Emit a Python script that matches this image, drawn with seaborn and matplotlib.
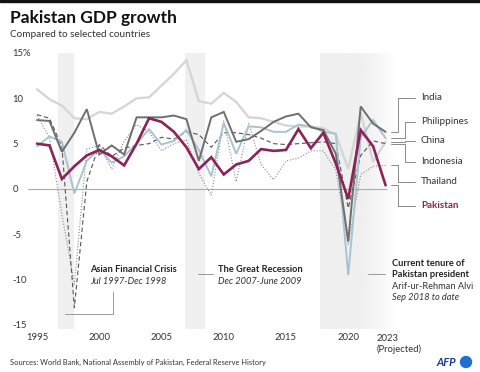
import numpy as np
import pandas as pd
import seaborn as sns
import matplotlib.pyplot as plt
from matplotlib.patches import Ellipse
from matplotlib.colors import to_rgb

# GDP growth, % (2023 projected)
years = list(range(1995, 2024))
china = [11.0, 9.9, 9.2, 7.8, 7.7, 8.5, 8.3, 9.1, 10.0, 10.1, 11.4, 12.7, 14.2, 9.7, 9.4,
         10.6, 9.6, 7.9, 7.8, 7.4, 7.0, 6.9, 6.9, 6.7, 6.0, 2.2, 8.4, 3.0, 5.2]
india = [7.6, 7.5, 4.1, 6.2, 8.8, 3.8, 4.8, 3.8, 7.9, 7.9, 7.9, 8.1, 7.7, 3.1, 7.9,
         8.5, 5.2, 5.5, 6.4, 7.4, 8.0, 8.3, 6.8, 6.5, 3.9, -5.8, 9.1, 7.2, 6.3]
philippines = [4.7, 5.8, 5.2, -0.5, 3.1, 4.4, 2.9, 3.6, 5.0, 6.6, 4.9, 5.3, 6.5, 4.3, 1.4,
               7.3, 3.9, 6.9, 6.8, 6.3, 6.3, 7.1, 6.9, 6.3, 6.1, -9.5, 5.7, 7.6, 5.6]
indonesia = [8.2, 7.8, 4.7, -13.1, 0.8, 4.9, 3.6, 4.5, 4.8, 5.0, 5.7, 5.5, 6.3, 6.0, 4.6,
             6.2, 6.2, 6.0, 5.6, 5.0, 4.9, 5.0, 5.1, 5.2, 5.0, -2.1, 3.7, 5.3, 5.0]
thailand = [8.1, 5.7, -2.8, -10.5, 4.4, 4.8, 2.2, 5.3, 7.1, 6.3, 4.2, 5.0, 5.4, 1.7, -0.7,
            7.5, 0.8, 7.2, 2.7, 1.0, 3.1, 3.4, 4.2, 4.2, 2.1, -6.1, 1.6, 2.5, 2.6]
pakistan = [5.0, 4.8, 1.1, 2.5, 3.7, 4.3, 3.6, 2.6, 5.0, 7.8, 7.4, 6.3, 4.6, 2.2, 3.5,
            1.6, 2.7, 3.1, 4.4, 4.2, 4.3, 6.6, 4.5, 6.2, 2.8, -1.1, 6.5, 4.7, 0.4]

yticks = [-15, -10, -5, 0, 5, 10, 15]
ytick_labels = ['-15', '-10', '-5', '0', '5', '10', '15%']
xticks_major = [1995, 2000, 2005, 2010, 2015, 2020]

# shaded periods (drawn position on the year axis)
asia_band = (1996.65, 1997.96)
recession_band = (2006.9, 2008.5)
tenure_band = (2017.73, 2023.9)

df = pd.DataFrame({'year': years, 'China': china, 'India': india, 'Philippines': philippines,
                   'Indonesia': indonesia, 'Thailand': thailand, 'Pakistan': pakistan})

sns.set_style("white")
plt.rcParams['font.family'] = ['Lato', 'DejaVu Sans']

MAROON = '#8b2358'
BAND = '#f0f0f0'
fig = plt.figure(figsize=(4.8, 3.72), dpi=100)
ax = fig.add_axes([28/480, 0.1167, 369/480, 0.7409])

# background bands
for a, b in [asia_band, recession_band]:
    ax.axvspan(a, b, color=BAND, lw=0, zorder=0)
grad = np.ones((1, 200, 4))
grad[..., :3] = to_rgb(BAND)
ramp = np.linspace(0, 1, 200)
grad[0, :, 3] = np.clip((1 - ramp) / 0.45, 0, 1)
ax.imshow(grad, extent=(tenure_band[0], tenure_band[1], -15.4, 15), aspect='auto',
          zorder=0, clip_on=False)

ax.hlines(0, 1994.2, 2023.15, color='#aaaaaa', lw=0.8, zorder=1)

# series, lightest first
styles = [
    ('China', '#d6d6d6', 1.7, '-'),
    ('Thailand', '#8a8a8a', 0.8, (0, (1, 1.6))),
    ('Indonesia', '#555555', 0.8, (0, (4, 2.5))),
    ('Philippines', '#a8c3d1', 1.4, '-'),
    ('India', '#6e6e6e', 1.4, '-'),
    ('Pakistan', MAROON, 1.9, '-'),
]
for name, col, lw, ls in styles:
    sns.lineplot(data=df, x='year', y=name, ax=ax, color=col, linewidth=lw,
                 linestyle=ls, zorder=3, solid_joinstyle='miter')

ax.set_xlim(1994.277, 2023.916)
ax.set_ylim(-15.4, 15)
sns.despine(ax=ax, left=True, bottom=True)
ax.set_xlabel('')
ax.set_ylabel('')

ax.set_yticks(yticks)
ax.set_yticklabels(ytick_labels, fontsize=6.8, color='#333333')
ax.tick_params(axis='y', length=0, pad=11)
for t in ax.get_yticklabels():
    t.set_ha('left')

ax.set_xticks(xticks_major)
ax.set_xticks(years, minor=True)
ax.set_xticklabels([str(y) for y in xticks_major], fontsize=6.8, color='#333333')
ax.tick_params(axis='x', which='both', direction='in', color='#999999', width=0.6, pad=3)
ax.tick_params(axis='x', which='major', length=5.5)
ax.tick_params(axis='x', which='minor', length=2.8)
ax.text(2022.26, -0.018, '2023\n(Projected)', transform=ax.get_xaxis_transform(),
        ha='left', va='top', fontsize=6.8, color='#333333', linespacing=1.3)

# right-hand labels with elbow connectors
lab_names = ['India', 'Philippines', 'China', 'Indonesia', 'Thailand', 'Pakistan']
lab_y = [10.07, 7.39, 5.3, 2.98, 0.77, -1.87]
lab_elbow = [2024.0, 2024.56, 2024.56, 2024.56, 2024.0, 2024.0]
for name, ly, ex in zip(lab_names, lab_y, lab_elbow):
    y0 = df[name].iloc[-1]
    ax.plot([2023.43, ex, ex, 2025.36], [y0, y0, ly, ly], color='#777777', lw=0.6,
            clip_on=False, zorder=2)
    bold = name == 'Pakistan'
    ax.text(2025.84, ly, name, fontsize=7.1, va='center', ha='left',
            color=MAROON if bold else '#333333', fontweight='bold' if bold else 'normal')

# period annotations
FS = 6.7
ax.plot([1997.25, 2001.1, 2001.1], [-13.78, -13.78, -11.32], color='#999999', lw=0.7, zorder=2)
ax.text(1999.26, -8.93, 'Asian Financial Crisis', fontsize=FS, fontweight='bold', va='center', color='#222222')
ax.text(1999.26, -10.25, 'Jul 1997-Dec 1998', fontsize=FS, style='italic', va='center', color='#333333')

ax.plot([2007.93, 2009.14], [-9.37, -9.37], color='#999999', lw=0.7, zorder=2)
ax.text(2009.54, -8.93, 'The Great Recession', fontsize=FS, fontweight='bold', va='center', color='#222222')
ax.text(2009.54, -10.25, 'Dec 2007-June 2009', fontsize=FS, style='italic', va='center', color='#333333')

ax.plot([2021.59, 2022.95], [-9.4, -9.4], color='#999999', lw=0.7, zorder=2, clip_on=False)
ax.text(2023.49, -8.19, 'Current tenure of', fontsize=FS, fontweight='bold', va='center', color='#222222')
ax.text(2023.49, -9.45, 'Pakistan president', fontsize=FS, fontweight='bold', va='center', color='#222222')
ax.text(2023.49, -10.77, 'Arif-ur-Rehman Alvi', fontsize=FS, va='center', color='#333333')
ax.text(2023.49, -11.98, 'Sep 2018 to date', fontsize=FS, style='italic', va='center', color='#333333')

# header / footer
fig.patches.append(plt.Rectangle((0, 1 - 2/372), 1, 2/372, transform=fig.transFigure,
                                 color='#111111', zorder=5))
fig.text(10/480, 1 - 22.7/372, 'Pakistan GDP growth', fontsize=12.5, fontweight='bold',
         va='baseline', color='#111111')
fig.text(10/480, 1 - 36.7/372, 'Compared to selected countries', fontsize=7.2,
         va='baseline', color='#333333')
fig.text(10/480, 1 - 362/372, 'Sources: World Bank, National Assembly of Pakistan, Federal Reserve History',
         fontsize=5.45, va='center', color='#333333')
fig.text(436/480, 1 - 362/372, 'AFP', fontsize=8, fontweight='bold', style='italic',
         va='center', color='#1a3a8f')
fig.patches.append(Ellipse((466/480, 1 - 362/372), 11/480, 11/372, transform=fig.transFigure,
                           color='#1f6fd1', zorder=5))

fig.savefig('out.png', dpi=100)
